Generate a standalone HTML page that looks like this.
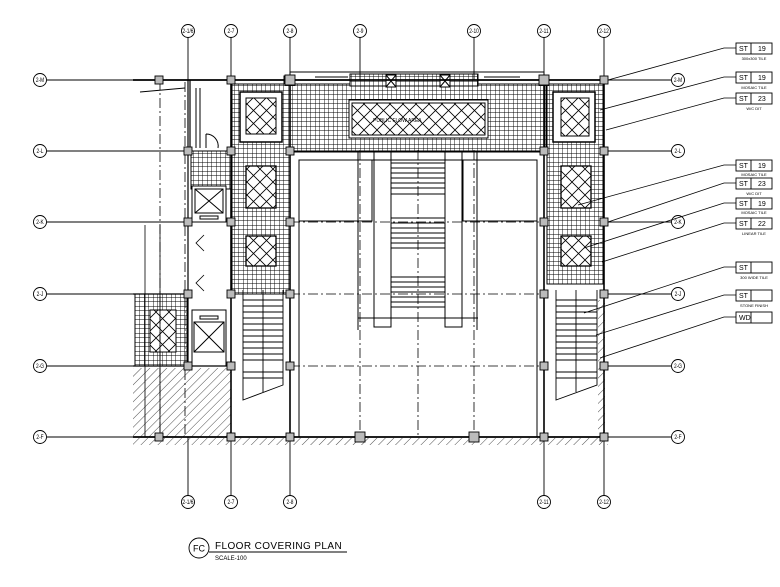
<!DOCTYPE html>
<html><head><meta charset="utf-8"><style>
html,body{margin:0;padding:0;background:#fff;}
svg{display:block;}
text{font-family:"Liberation Sans",sans-serif;fill:#000;}
</style></head><body>
<svg width="780" height="587" viewBox="0 0 780 587" xmlns="http://www.w3.org/2000/svg">
<defs>
<pattern id="g" width="4.5" height="4.5" patternUnits="userSpaceOnUse">
<rect width="4.5" height="4.5" fill="#fff"/>
<path d="M0 0H4.5M0 0V4.5" stroke="#000" stroke-width="0.9"/>
</pattern>
<pattern id="d" width="13" height="13" patternUnits="userSpaceOnUse">
<rect width="13" height="13" fill="#fff"/>
<path d="M0 0L13 13M13 0L0 13" stroke="#000" stroke-width="0.8"/>
</pattern>
<pattern id="h" width="6" height="6" patternUnits="userSpaceOnUse" patternTransform="rotate(45)">
<rect width="6" height="6" fill="#fff"/>
<path d="M0 0V6" stroke="#000" stroke-width="0.7"/>
</pattern>
</defs>

<g stroke="#000" fill="none" stroke-width="1">
<rect x="133" y="368" width="98" height="69" fill="url(#h)" stroke="none"/>
<rect x="133" y="438" width="475" height="7" fill="url(#h)" stroke="none"/>
<rect x="598" y="300" width="7" height="137" fill="url(#h)" stroke="none"/>

<rect x="284" y="76" width="262" height="76" fill="url(#g)"/>
<rect x="232" y="84" width="58" height="210" fill="url(#g)"/>
<rect x="547" y="84" width="56" height="200" fill="url(#g)"/>
<rect x="191" y="151" width="40" height="38" fill="url(#g)"/>
<rect x="135" y="294" width="52" height="72" fill="url(#g)"/>

<rect x="290" y="72" width="254" height="12" fill="#fff"/>
<rect x="350" y="74" width="128" height="12" fill="url(#g)"/>
<rect x="386" y="75" width="10" height="12" fill="#fff"/>
<path d="M386 75L396 87M396 75L386 87"/>
<rect x="440" y="75" width="10" height="12" fill="#fff"/>
<path d="M440 75L450 87M450 75L440 87"/>
<path d="M315 77H348M315 80H348M484 77H520M484 80H520"/>
<rect x="349" y="100" width="139" height="38" fill="#fff"/>
<rect x="352" y="103" width="133" height="32" fill="url(#d)"/>
<text x="373" y="122" font-size="5" stroke="none">PUBLIC FLOW AREA</text>

<rect x="240" y="92" width="42" height="50" fill="#fff" stroke-width="1.5"/>
<rect x="246" y="98" width="30" height="36" fill="url(#d)"/>
<rect x="246" y="166" width="30" height="42" fill="url(#d)" stroke-width="1.3"/>
<rect x="246" y="236" width="30" height="30" fill="url(#d)" stroke-width="1.3"/>
<rect x="553" y="92" width="42" height="50" fill="#fff" stroke-width="1.5"/>
<rect x="561" y="98" width="28" height="38" fill="url(#d)"/>
<rect x="561" y="166" width="30" height="42" fill="url(#d)" stroke-width="1.3"/>
<rect x="561" y="236" width="30" height="30" fill="url(#d)" stroke-width="1.3"/>
<rect x="150" y="310" width="26" height="42" fill="url(#d)"/>

<rect x="192" y="186" width="34" height="36" fill="#fff"/>
<rect x="195" y="189" width="28" height="24" />
<path d="M195 189L223 213M223 189L195 213"/>
<rect x="200" y="216" width="18" height="3"/>
<rect x="192" y="310" width="34" height="56" fill="#fff"/>
<rect x="194" y="322" width="30" height="30"/>
<path d="M194 322L224 352M224 322L194 352"/>
<rect x="200" y="316" width="18" height="3"/>

<rect x="299" y="160" width="238" height="277"/>
<rect x="299" y="160" width="73" height="61"/>
<rect x="463" y="160" width="74" height="61"/>
<path d="M374 152V327H391V152M445 152V327H462V152"/>
<path d="M358 152V330M477 152V330M358 318H478"/>
<g stroke-width="0.9">
<path d="M391 163H445M391 168H445M391 173H445M391 178H445M391 183H445M391 188H445M391 194H445"/>
<path d="M391 218H445M391 223H445M391 228H445M391 233H445M391 238H445M391 243H445M391 248H445"/>
<path d="M391 277H445M391 282H445M391 287H445M391 292H445M391 297H445M391 302H445M391 307H445"/>
</g>
<path d="M418 150V437M360 150V437M474 150V437" stroke-dasharray="10 3 2 3" stroke-width="0.8"/>

<g stroke-width="0.9">
<path d="M243 290V400L283 385V290M556 290V400L597 385V290"/>
<path d="M243 300H283M243 306H283M243 312H283M243 318H283M243 324H283M243 330H283M243 336H283M243 342H283M243 348H283M243 354H283M243 360H283M243 372H283M243 378H283"/>
<path d="M556 300H597M556 306H597M556 312H597M556 318H597M556 324H597M556 330H597M556 336H597M556 342H597M556 348H597M556 354H597M556 360H597M556 372H597M556 378H597"/>
<path d="M263 290V392M576 290V392"/>
</g>

<path d="M133 80H604M133 437H604" stroke-width="1.8"/>
<path d="M231 80V437M290 80V437M544 80V437M604 80V437" stroke-width="1.6"/>
<path d="M188 80V366M190 80V151" stroke-width="1.2"/>
<path d="M133 366H231M133 294H188" stroke-width="1.2"/>
<path d="M200 88V148M196 88V148"/>
<path d="M140 92L185 88"/>
<path d="M206 134A12 12 0 0 1 218 148M206 134V148"/>
<path d="M204 275L196 283L204 291M204 235L196 243L204 251" stroke-width="0.8"/>
<path d="M145 225V437M160 225V437M135 222H188" stroke-width="0.8"/>
<path d="M160 80V437" stroke-dasharray="10 3 2 3" stroke-width="0.8"/>
<path d="M185 82V437" stroke-dasharray="10 3 2 3" stroke-width="0.8"/>
<path d="M290 222H544M290 366H544M290 294H544" stroke-dasharray="10 3 2 3" stroke-width="0.8"/>
<path d="M290 151H544M299 151H537"/>

<g stroke-width="0.9">
<path d="M188 37V80M231 37V80M290 37V80M360 37V80M474 37V80M544 37V80M604 37V80"/>
<path d="M188 437V496M231 437V496M290 437V496M544 437V496M604 437V496"/>
<path d="M47 80H133M47 151H188M47 222H188M47 294H133M47 366H133M47 437H133"/>
<path d="M604 80H671M604 151H671M604 222H671M604 294H671M604 366H671M604 437H671"/>
</g>
</g>

<g fill="#bbb" stroke="#000" stroke-width="0.9">
<rect x="155" y="76" width="8" height="8"/><rect x="227" y="76" width="8" height="8"/><rect x="285" y="75" width="10" height="10"/><rect x="539" y="75" width="10" height="10"/><rect x="600" y="76" width="8" height="8"/>
<rect x="184" y="147" width="8" height="8"/><rect x="227" y="147" width="8" height="8"/><rect x="286" y="147" width="8" height="8"/><rect x="540" y="147" width="8" height="8"/><rect x="600" y="147" width="8" height="8"/>
<rect x="184" y="218" width="8" height="8"/><rect x="227" y="218" width="8" height="8"/><rect x="286" y="218" width="8" height="8"/><rect x="540" y="218" width="8" height="8"/><rect x="600" y="218" width="8" height="8"/>
<rect x="184" y="290" width="8" height="8"/><rect x="227" y="290" width="8" height="8"/><rect x="286" y="290" width="8" height="8"/><rect x="540" y="290" width="8" height="8"/><rect x="600" y="290" width="8" height="8"/>
<rect x="184" y="362" width="8" height="8"/><rect x="227" y="362" width="8" height="8"/><rect x="286" y="362" width="8" height="8"/><rect x="540" y="362" width="8" height="8"/><rect x="600" y="362" width="8" height="8"/>
<rect x="155" y="433" width="8" height="8"/><rect x="227" y="433" width="8" height="8"/><rect x="286" y="433" width="8" height="8"/><rect x="355" y="432" width="10" height="10"/><rect x="469" y="432" width="10" height="10"/><rect x="540" y="433" width="8" height="8"/><rect x="600" y="433" width="8" height="8"/>
</g>

<g fill="#fff" stroke="#000" stroke-width="0.9">
<circle cx="188" cy="31" r="6.5"/><circle cx="231" cy="31" r="6.5"/><circle cx="290" cy="31" r="6.5"/><circle cx="360" cy="31" r="6.5"/><circle cx="474" cy="31" r="6.5"/><circle cx="544" cy="31" r="6.5"/><circle cx="604" cy="31" r="6.5"/>
<circle cx="188" cy="502" r="6.5"/><circle cx="231" cy="502" r="6.5"/><circle cx="290" cy="502" r="6.5"/><circle cx="544" cy="502" r="6.5"/><circle cx="604" cy="502" r="6.5"/>
<circle cx="40" cy="80" r="6.5"/><circle cx="40" cy="151" r="6.5"/><circle cx="40" cy="222" r="6.5"/><circle cx="40" cy="294" r="6.5"/><circle cx="40" cy="366" r="6.5"/><circle cx="40" cy="437" r="6.5"/>
<circle cx="678" cy="80" r="6.5"/><circle cx="678" cy="151" r="6.5"/><circle cx="678" cy="222" r="6.5"/><circle cx="678" cy="294" r="6.5"/><circle cx="678" cy="366" r="6.5"/><circle cx="678" cy="437" r="6.5"/>
</g>
<g font-size="6" text-anchor="middle" transform="scale(0.8,1)">
<text x="235" y="33">2-1/6</text><text x="288.75" y="33">2-7</text><text x="362.5" y="33">2-8</text><text x="450" y="33">2-9</text><text x="592.5" y="33">2-10</text><text x="680" y="33">2-11</text><text x="755" y="33">2-12</text>
<text x="235" y="504">2-1/6</text><text x="288.75" y="504">2-7</text><text x="362.5" y="504">2-8</text><text x="680" y="504">2-11</text><text x="755" y="504">2-12</text>
<text x="50" y="82">2-M</text><text x="50" y="153">2-L</text><text x="50" y="224">2-K</text><text x="50" y="296">2-J</text><text x="50" y="368">2-G</text><text x="50" y="439">2-F</text>
<text x="847.5" y="82">2-M</text><text x="847.5" y="153">2-L</text><text x="847.5" y="224">2-K</text><text x="847.5" y="296">2-J</text><text x="847.5" y="368">2-G</text><text x="847.5" y="439">2-F</text>
</g>

<g stroke="#000" fill="none" stroke-width="0.8">
<path d="M736 48H724L608 80"/>
<path d="M736 77H724L600 110"/>
<path d="M736 98H724L606 130"/>
<path d="M736 165H724L578 205"/>
<path d="M736 183H724L608 222"/>
<path d="M736 203H724L584 248"/>
<path d="M736 223H724L602 262"/>
<path d="M736 267H724L584 313"/>
<path d="M736 295H724L596 335"/>
<path d="M736 317H724L600 358"/>
</g>
<g fill="#fff" stroke="#000" stroke-width="0.9">
<rect x="736" y="43" width="36" height="11"/><rect x="736" y="72" width="36" height="11"/><rect x="736" y="93" width="36" height="11"/>
<rect x="736" y="160" width="36" height="11"/><rect x="736" y="178" width="36" height="11"/><rect x="736" y="198" width="36" height="11"/><rect x="736" y="218" width="36" height="11"/>
<rect x="736" y="262" width="36" height="11"/><rect x="736" y="290" width="36" height="11"/><rect x="736" y="312" width="36" height="11"/>
</g>
<g stroke="#000" stroke-width="0.9">
<path d="M751 43V54M751 72V83M751 93V104M751 160V171M751 178V189M751 198V209M751 218V229M751 262V273M751 290V301M751 312V323"/>
</g>
<g font-size="7">
<text x="739" y="51">ST</text><text x="758" y="51">19</text>
<text x="739" y="80">ST</text><text x="758" y="80">19</text>
<text x="739" y="101">ST</text><text x="758" y="101">23</text>
<text x="739" y="168">ST</text><text x="758" y="168">19</text>
<text x="739" y="186">ST</text><text x="758" y="186">23</text>
<text x="739" y="206">ST</text><text x="758" y="206">19</text>
<text x="739" y="226">ST</text><text x="758" y="226">22</text>
<text x="739" y="270">ST</text>
<text x="739" y="298">ST</text>
<text x="739" y="320">WD</text>
</g>
<g font-size="4" text-anchor="middle">
<text x="754" y="60">300x300 TILE</text><text x="754" y="89">MOSAIC TILE</text><text x="754" y="110">W/C DIT</text>
<text x="754" y="176">MOSAIC TILE</text><text x="754" y="195">W/C DIT</text><text x="754" y="214">MOSAIC TILE</text><text x="754" y="235">LINEAR TILE</text>
<text x="754" y="279">300 WIDE TILE</text><text x="754" y="307">STONE FINISH</text>
</g>

<circle cx="199" cy="548" r="10" fill="none" stroke="#000" stroke-width="0.9"/>
<text x="199" y="551.5" font-size="9" text-anchor="middle">FC</text>
<text x="215" y="549" font-size="10" letter-spacing="0.4">FLOOR COVERING PLAN</text>
<path d="M209 552H347" stroke="#000" stroke-width="0.9"/>
<text x="215" y="560" font-size="6">SCALE-100</text>
</svg>
</body></html>
